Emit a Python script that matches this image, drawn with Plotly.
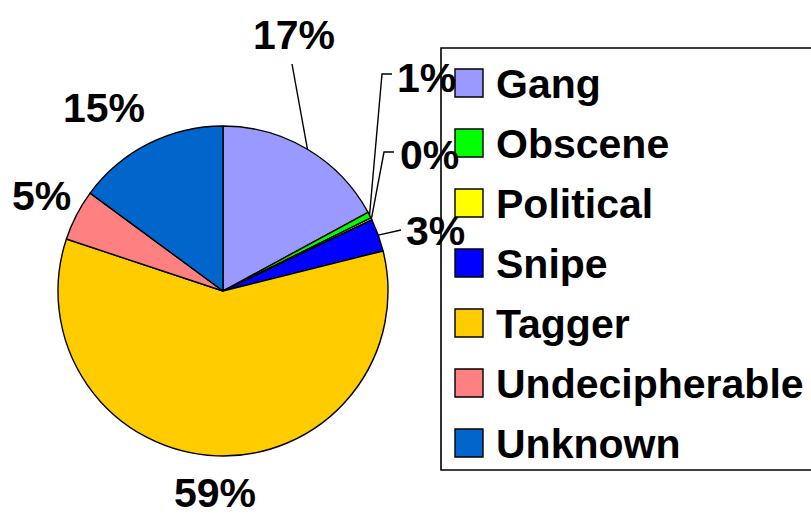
import math
import plotly.graph_objects as go

categories = ["Gang", "Obscene", "Political", "Snipe", "Tagger", "Undecipherable", "Unknown"]
values = [17.1, 0.6, 0.2, 3.2, 59.0, 5.0, 14.9]
colors = ["#9999FF", "#00FF00", "#FFFF00", "#0000FF", "#FFCC00", "#FF8080", "#0066CC"]

W, H = 811, 515
CX, CY, R = 223, 291, 165
FONT = dict(family="Arial, Liberation Sans, sans-serif", size=41, color="black")


def px(x):
    return x / W


def py(y):
    return 1 - y / H


fig = go.Figure(go.Pie(
    labels=categories, values=values, sort=False, direction="clockwise", rotation=0,
    marker=dict(colors=colors, line=dict(color="black", width=1.4)),
    textinfo="none", hoverinfo="label+percent", showlegend=False,
    domain=dict(x=[px(CX - R), px(CX + R)], y=[py(CY + R), py(CY - R)]),
))

total = sum(values)
pct = [round(100 * v / total) for v in values]
cum = 0
mid = []
for v in values:
    mid.append(2 * math.pi * (cum + v / 2) / total)
    cum += v


def edge(i):
    a = mid[i]
    return CX + R * math.sin(a), CY - R * math.cos(a)


# label text centres (pixels) and leader-line elbow points
label_pos = [(294, 35), (426, 78), (429, 155), (435, 231), (215, 493), (41, 196), (104, 108)]
leaders = {
    0: [(292, 64)],
    1: [(392, 74), (382, 74)],
    2: [(394, 152), (384, 152)],
    3: [(401, 230)],
}

annotations = []
shapes = []
for i, (lx, ly) in enumerate(label_pos):
    annotations.append(dict(x=px(lx), y=py(ly), xref="paper", yref="paper",
                            text=f"<b>{pct[i]}%</b>", showarrow=False, font=FONT,
                            xanchor="center", yanchor="middle"))
    if i in leaders:
        pts = leaders[i] + [edge(i)]
        path = "M " + " L ".join(f"{px(x)},{py(y)}" for x, y in pts)
        shapes.append(dict(type="path", xref="paper", yref="paper", path=path,
                           line=dict(color="black", width=1.4)))

# legend box
shapes.append(dict(type="rect", xref="paper", yref="paper",
                   x0=px(441), x1=px(820), y0=py(470), y1=py(48),
                   line=dict(color="black", width=1.6), fillcolor="rgba(0,0,0,0)"))
for i, (cat, col) in enumerate(zip(categories, colors)):
    yc = 83 + 60 * i
    shapes.append(dict(type="rect", xref="paper", yref="paper",
                       x0=px(455), x1=px(483), y0=py(yc + 14), y1=py(yc - 14),
                       line=dict(color="black", width=1.4), fillcolor=col))
    annotations.append(dict(x=px(494), y=py(yc + 1), xref="paper", yref="paper",
                            text=f"<b>{cat}</b>", showarrow=False, font=FONT,
                            xanchor="left", yanchor="middle"))

fig.update_layout(
    width=W, height=H, margin=dict(l=0, r=0, t=0, b=0),
    paper_bgcolor="white", plot_bgcolor="white",
    annotations=annotations, shapes=shapes,
)

fig.write_html("out.html", config={"displayModeBar": False},
               post_script="document.body.style.margin='0';document.body.style.overflow='hidden';")
